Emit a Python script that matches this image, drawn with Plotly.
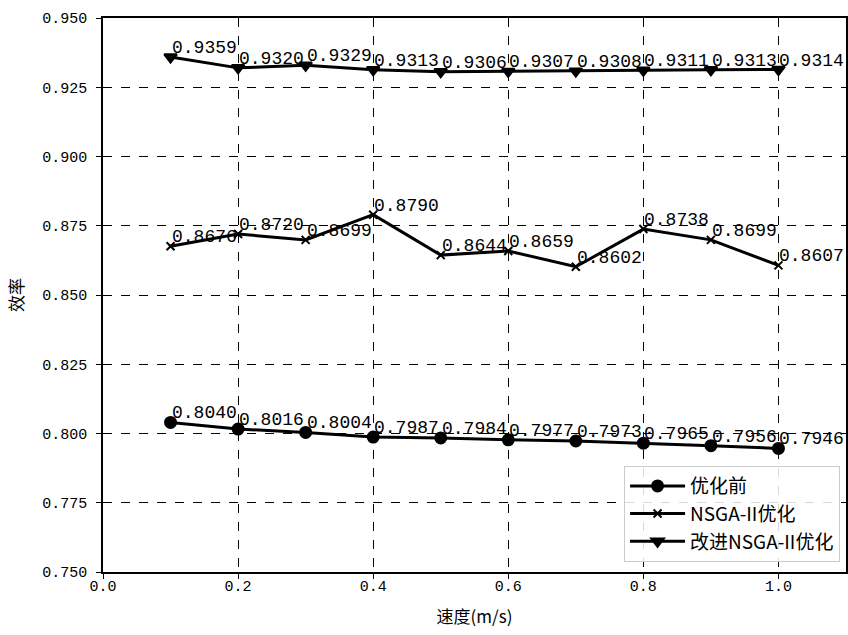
import plotly.graph_objects as go

speed = [0.1, 0.2, 0.3, 0.4, 0.5, 0.6, 0.7, 0.8, 0.9, 1.0]
before = [0.8040, 0.8016, 0.8004, 0.7987, 0.7984, 0.7977, 0.7973, 0.7965, 0.7956, 0.7946]
nsga2 = [0.8676, 0.8720, 0.8699, 0.8790, 0.8644, 0.8659, 0.8602, 0.8738, 0.8699, 0.8607]
improved = [0.9359, 0.9320, 0.9329, 0.9313, 0.9306, 0.9307, 0.9308, 0.9311, 0.9313, 0.9314]

names = ["优化前", "NSGA-II优化", "改进NSGA-II优化"]
x_ticks = [0.0, 0.2, 0.4, 0.6, 0.8, 1.0]
y_ticks = [0.750, 0.775, 0.800, 0.825, 0.850, 0.875, 0.900, 0.925, 0.950]

NUMFONT = "Liberation Mono, Noto Sans CJK SC, monospace"
CJKFONT = "Noto Sans CJK SC, Liberation Mono"

fig = go.Figure()
series = [(before, "circle", 11), (nsga2, "x-thin", 8), (improved, "triangle-down", 11)]
for (vals, sym, sz), name in zip(series, names):
    fig.add_trace(go.Scatter(
        x=speed, y=vals, mode="lines+markers", name=name,
        line=dict(color="black", width=3),
        marker=dict(symbol=sym, size=sz, color="black",
                    line=dict(color="black", width=2)),
    ))
    for xv, yv in zip(speed, vals):
        fig.add_annotation(x=xv, y=yv, text=f"{yv:.4f}", showarrow=False,
                           xanchor="left", yanchor="bottom", xshift=-1, yshift=-3,
                           font=dict(family=NUMFONT, size=18, color="black"))

fig.update_layout(
    width=848, height=635,
    margin=dict(l=103, r=0, t=18, b=63),
    paper_bgcolor="white", plot_bgcolor="white",
    font=dict(family=CJKFONT, color="black"),
    showlegend=True,
    legend=dict(x=0.992, y=0.018, xanchor="right", yanchor="bottom",
                bgcolor="rgba(255,255,255,0.85)", bordercolor="#cccccc", borderwidth=1,
                font=dict(family=CJKFONT, size=19, color="black"),
                tracegroupgap=0, itemwidth=55),
)
fig.update_xaxes(range=[0, 1.1], tickvals=x_ticks, ticktext=[f"{v:.1f}" for v in x_ticks],
                 showgrid=True, gridcolor="black", griddash="dash", gridwidth=0.8,
                 showline=True, linecolor="black", linewidth=1.5, mirror=True,
                 ticks="outside", ticklen=5, tickcolor="black",
                 tickfont=dict(family=NUMFONT, size=15, color="black"),
                 ticklabelstandoff=-6,
                 zeroline=False,
                 title=dict(text="速度(m/s)", font=dict(family=CJKFONT, size=17), standoff=16))
fig.update_yaxes(range=[0.75, 0.95], tickvals=y_ticks, ticktext=[f"{v:.3f}" for v in y_ticks],
                 showgrid=True, gridcolor="black", griddash="dash", gridwidth=0.8,
                 showline=True, linecolor="black", linewidth=1.5, mirror=True,
                 ticks="outside", ticklen=5, tickcolor="black",
                 tickfont=dict(family=NUMFONT, size=15, color="black"),
                 ticklabelstandoff=6,
                 zeroline=False,
                 title=dict(text="效率", font=dict(family=CJKFONT, size=17), standoff=14))

fig.write_html("out.html")
